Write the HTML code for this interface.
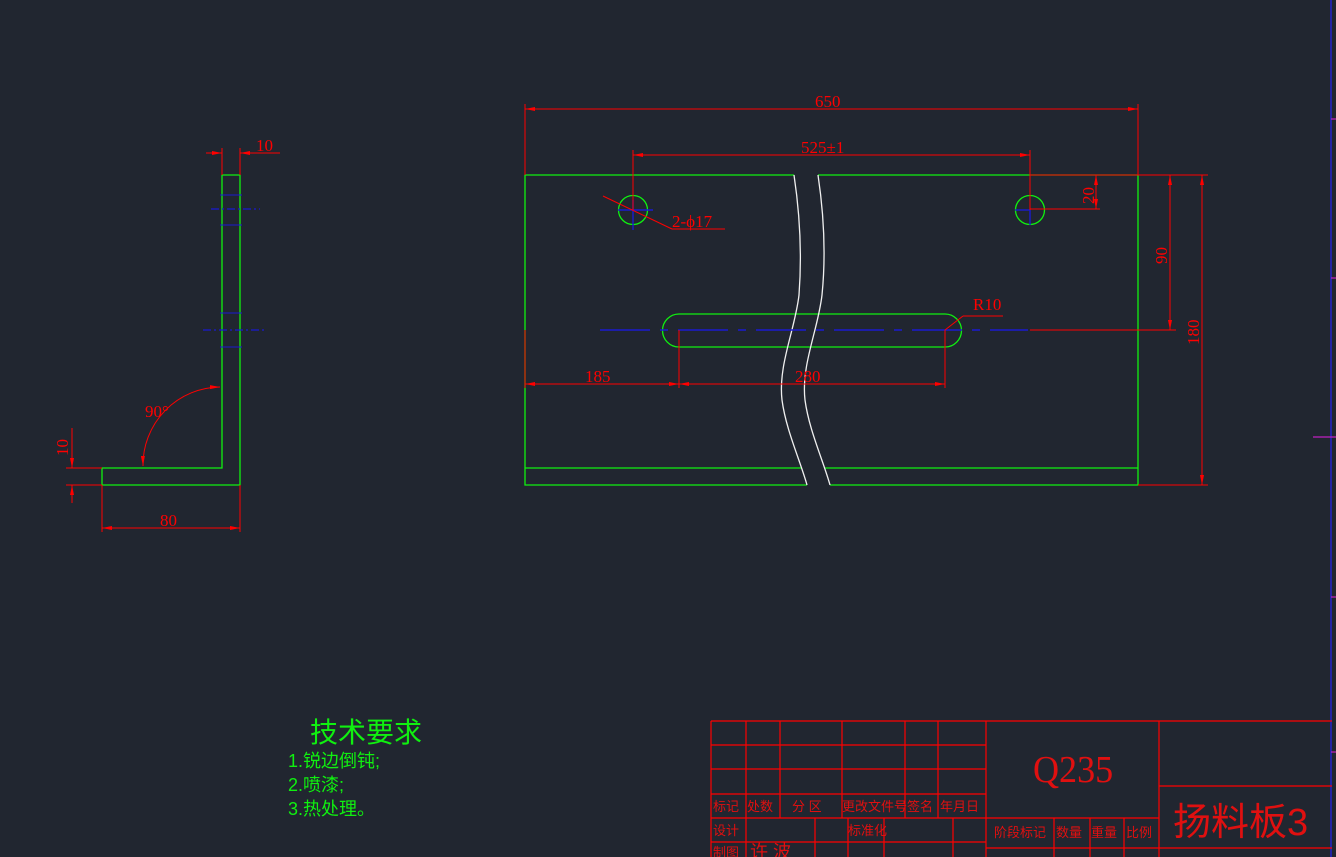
<!DOCTYPE html>
<html><head><meta charset="utf-8"><style>
html,body{margin:0;padding:0;background:#212630;}
svg{display:block}
text{font-family:"Liberation Serif","Noto Serif CJK SC","WenQuanYi Zen Hei",serif;}
.cjk{font-family:"Liberation Sans","WenQuanYi Zen Hei","Noto Sans CJK SC",sans-serif;}
</style></head><body>
<svg width="1336" height="857" viewBox="0 0 1336 857" xmlns="http://www.w3.org/2000/svg">
<rect width="1336" height="857" fill="#212630"/>
<defs>
<marker id="a" viewBox="0 0 10 4" refX="10" refY="2" markerWidth="10" markerHeight="4" orient="auto-start-reverse" markerUnits="userSpaceOnUse"><path d="M0,0L10,2L0,4z" fill="#f00"/></marker>
</defs>
<line x1="1331" y1="0" x2="1331" y2="857" stroke="#2323c8" stroke-width="1.5"/>
<g stroke="#c020c0" stroke-width="1.2">
<line x1="1331" y1="119" x2="1336" y2="119"/><line x1="1331" y1="278" x2="1336" y2="278"/>
<line x1="1313" y1="437" x2="1336" y2="437"/><line x1="1331" y1="597" x2="1336" y2="597"/><line x1="1331" y1="752" x2="1336" y2="752"/>
</g>

<g fill="none" stroke="#10f010" stroke-width="1.3">
<path d="M222,175H240V485H102V468H222Z"/>
</g>
<g stroke="#1a1ad0" stroke-width="1.2" stroke-dasharray="8,3,2,3">
<line x1="211" y1="209" x2="260" y2="209"/><line x1="203" y1="330" x2="267" y2="330"/>
</g>
<g stroke="#1a1ad0" stroke-width="1">
<line x1="220" y1="195" x2="242" y2="195"/><line x1="220" y1="225" x2="242" y2="225"/>
<line x1="220" y1="313" x2="242" y2="313"/><line x1="220" y1="347" x2="242" y2="347"/>
</g>
<g stroke="#f00" stroke-width="1" fill="none">
<line x1="222" y1="148" x2="222" y2="175"/><line x1="240" y1="148" x2="240" y2="175"/>
<line x1="206" y1="153" x2="222" y2="153" marker-end="url(#a)"/><line x1="280" y1="153" x2="240" y2="153" marker-end="url(#a)"/>
<line x1="102" y1="485" x2="102" y2="532"/><line x1="240" y1="485" x2="240" y2="532"/>
<line x1="102" y1="528" x2="240" y2="528" marker-start="url(#a)" marker-end="url(#a)"/>
<line x1="66" y1="468" x2="102" y2="468"/><line x1="66" y1="485" x2="102" y2="485"/>
<line x1="72" y1="428" x2="72" y2="468" marker-end="url(#a)"/><line x1="72" y1="503" x2="72" y2="485" marker-end="url(#a)"/>
<path d="M220,387 A78,78 0 0 0 143,466" marker-start="url(#a)" marker-end="url(#a)"/>
</g>
<g fill="#f00" font-size="17">
<text x="256" y="151">10</text>
<text x="160" y="526">80</text>
<text x="145" y="417">90°</text>
<text transform="translate(68,456) rotate(-90)">10</text>
</g>

<g fill="none" stroke="#10f010" stroke-width="1.3">
<path d="M794,175H525V485H807"/><path d="M818,175H1138V485H830"/>
<line x1="525" y1="468" x2="802" y2="468"/><line x1="825" y1="468" x2="1138" y2="468"/>
<circle cx="633" cy="210" r="14.5"/><circle cx="1030" cy="210" r="14.5"/>
<path d="M679,314H945A16,16 0 0 1 945,347H679A16,16 0 0 1 679,314Z"/>
</g>
<g fill="none" stroke="#f0f0f0" stroke-width="1.3">
<path d="M794,175 C800,215 802,255 799,295 C795,330 778,365 782,400 C786,430 800,460 807,485"/>
<path d="M818,175 C824,215 826,255 822,295 C818,330 801,365 805,400 C809,430 823,460 830,485"/>
</g>
<g stroke="#1a1ad0" stroke-width="1.4">
<line x1="600" y1="330" x2="1028" y2="330" stroke-dasharray="50,10,8,10"/>
<line x1="618" y1="210" x2="653" y2="210"/><line x1="633" y1="200" x2="633" y2="230"/>
<line x1="1015" y1="210" x2="1030" y2="210"/><line x1="1030" y1="210" x2="1030" y2="225"/>
</g>
<g stroke="#f00" stroke-width="1" fill="none">
<line x1="525" y1="104" x2="525" y2="175"/><line x1="1138" y1="104" x2="1138" y2="175"/>
<line x1="525" y1="109" x2="1138" y2="109" marker-start="url(#a)" marker-end="url(#a)"/>
<line x1="633" y1="150" x2="633" y2="210"/><line x1="1030" y1="150" x2="1030" y2="210"/>
<line x1="633" y1="155" x2="1030" y2="155" marker-start="url(#a)" marker-end="url(#a)"/>
<line x1="603" y1="196" x2="672" y2="229"/><line x1="672" y1="229" x2="725" y2="229"/>
<line x1="525" y1="330" x2="525" y2="388"/><line x1="679" y1="330" x2="679" y2="388"/><line x1="945" y1="330" x2="945" y2="388"/>
<line x1="525" y1="384" x2="679" y2="384" marker-start="url(#a)" marker-end="url(#a)"/>
<line x1="679" y1="384" x2="945" y2="384" marker-start="url(#a)" marker-end="url(#a)"/>
<line x1="945" y1="330" x2="963" y2="316"/><line x1="963" y1="316" x2="1003" y2="316"/>
<line x1="1030" y1="175" x2="1208" y2="175"/><line x1="1030" y1="209" x2="1100" y2="209"/>
<line x1="1096" y1="175" x2="1096" y2="209" marker-start="url(#a)" marker-end="url(#a)"/>
<line x1="1030" y1="330" x2="1176" y2="330"/>
<line x1="1170" y1="175" x2="1170" y2="330" marker-start="url(#a)" marker-end="url(#a)"/>
<line x1="1138" y1="485" x2="1208" y2="485"/>
<line x1="1202" y1="175" x2="1202" y2="485" marker-start="url(#a)" marker-end="url(#a)"/>
</g>
<g fill="#f00" font-size="17">
<text x="815" y="107">650</text>
<text x="801" y="153">525±1</text>
<text x="672" y="227">2-ϕ17</text>
<text x="973" y="310">R10</text>
<text x="585" y="382">185</text>
<text x="795" y="382">280</text>
<text transform="translate(1094,204) rotate(-90)">20</text>
<text transform="translate(1167,264) rotate(-90)">90</text>
<text transform="translate(1199,345) rotate(-90)">180</text>
</g>

<g fill="#10f010">
<text class="cjk" x="310" y="742" font-size="28">技术要求</text>
<text class="cjk" x="288" y="767" font-size="18">1.锐边倒钝;</text>
<text class="cjk" x="288" y="791" font-size="18">2.喷漆;</text>
<text class="cjk" x="288" y="815" font-size="18">3.热处理。</text>
</g>

<g stroke="#f00" stroke-width="1.2" fill="none">
<line x1="711" y1="721" x2="1332" y2="721"/>
<line x1="711" y1="721" x2="711" y2="857"/>
<line x1="711" y1="745" x2="986" y2="745"/><line x1="711" y1="769" x2="986" y2="769"/>
<line x1="711" y1="794" x2="986" y2="794"/><line x1="711" y1="818" x2="1159" y2="818"/>
<line x1="711" y1="842" x2="986" y2="842"/>
<line x1="746" y1="721" x2="746" y2="818"/><line x1="780" y1="721" x2="780" y2="818"/>
<line x1="842" y1="721" x2="842" y2="818"/><line x1="905" y1="721" x2="905" y2="818"/>
<line x1="938" y1="721" x2="938" y2="818"/>
<line x1="746" y1="818" x2="746" y2="857"/><line x1="815" y1="818" x2="815" y2="857"/>
<line x1="848" y1="818" x2="848" y2="857"/><line x1="884" y1="818" x2="884" y2="857"/>
<line x1="953" y1="818" x2="953" y2="857"/>
<line x1="986" y1="721" x2="986" y2="857"/><line x1="1159" y1="721" x2="1159" y2="857"/>
<line x1="1054" y1="818" x2="1054" y2="857"/><line x1="1090" y1="818" x2="1090" y2="857"/>
<line x1="1124" y1="818" x2="1124" y2="857"/>
<line x1="986" y1="848" x2="1332" y2="848"/>
<line x1="1159" y1="786" x2="1332" y2="786"/>
</g>
<g fill="#e01010" font-size="13">
<text class="cjk" x="713" y="811">标记</text><text class="cjk" x="747" y="811">处数</text>
<text class="cjk" x="792" y="811">分 区</text><text class="cjk" x="842" y="811">更改文件号</text>
<text class="cjk" x="907" y="811">签名</text><text class="cjk" x="940" y="811">年月日</text>
<text class="cjk" x="713" y="835">设计</text><text class="cjk" x="848" y="835">标准化</text>
<text class="cjk" x="713" y="857">制图</text>
<text class="cjk" x="750" y="858" font-size="18">许 波</text>
<text class="cjk" x="994" y="837">阶段标记</text><text class="cjk" x="1056" y="837">数量</text>
<text class="cjk" x="1091" y="837">重量</text><text class="cjk" x="1126" y="837">比例</text>
</g>
<text x="1033" y="782" fill="#e01010" font-size="38" transform="translate(1033,0) scale(0.95,1) translate(-1033,0)">Q235</text>
<text class="cjk" x="1173" y="835" fill="#e01010" font-size="38">扬料板3</text>
</svg>
</body></html>
